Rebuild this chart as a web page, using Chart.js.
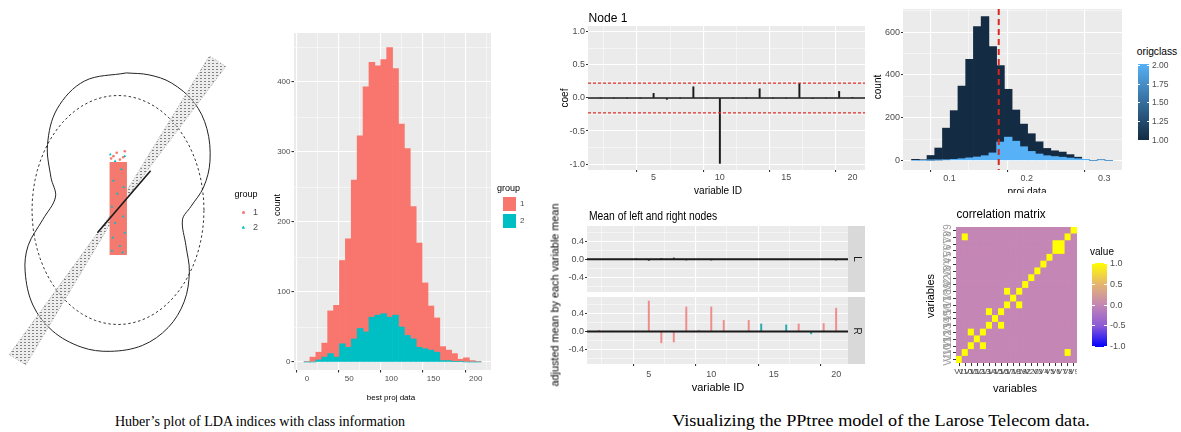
<!DOCTYPE html>
<html lang="en">
<head>
<meta charset="UTF-8">
<title>PPtree figures</title>
<script src="https://cdn.jsdelivr.net/npm/chart.js"></script>
<style>
    body { margin: 0; width: 1181px; height: 432px; position: relative; overflow: hidden; background: #fff;
           font-family: 'Liberation Sans', Arial, sans-serif; }
    .t { position: absolute; white-space: nowrap; color: #000; line-height: 1; }
    .serif { font-family: 'Liberation Serif', 'Times New Roman', serif; }
</style>
</head>
<body>
<script>
    // ---------- data ----------
    // Huber plot, data units (dashed reference circle has radius 1)
    const huberCurveX = [0.097, -0.39, -0.708, -0.82, -0.78, -0.727, -0.876, -1.045, -1.08, -0.99, -0.764, -0.427, -0.09,
        0.285, 0.584, 0.77, 0.83, 0.79, 0.75, 0.846, 0.996, 1.07, 1.034, 0.884, 0.62, 0.36, 0.097];
    const huberCurveY = [1.197, 1.126, 0.883, 0.57, 0.285, 0.114, -0.085, -0.31, -0.54, -0.83, -1.054, -1.197, -1.234,
        -1.182, -1.026, -0.80, -0.54, -0.31, -0.085, 0.028, 0.2, 0.427, 0.71, 0.94, 1.11, 1.18, 1.197];
    const huberRefRadius = 1;
    const bandX = [-1.264, 0.019, 1.062, 1.253, 0.048, -1.073, -1.264];
    const bandY = [-1.262, 0.067, 1.344, 1.254, 0.053, -1.353, -1.262];
    const projLineX = [-0.239, 0.379];
    const projLineY = [-0.199, 0.342];
    const boxX = [-0.098, 0.104, 0.104, -0.098, -0.098];
    const boxY = [0.42, 0.42, -0.393, -0.393, 0.42];
    const group1X = [-0.053, -0.015, 0.079, 0.022, -0.08, 0.06];
    const group1Y = [0.47, 0.5, 0.513, 0.44, 0.45, 0.46];
    const group2X = [-0.034, 0.041, -0.053, 0.067, -0.008, -0.071, 0.06, -0.034, 0.079, -0.06, 0.022, -0.071, 0.053, -0.09, 0.079];
    const group2Y = [0.427, 0.356, 0.256, 0.199, 0.143, 0.028, -0.057, -0.114, -0.199, -0.242, -0.314, -0.356, -0.37, 0.485, 0.47];

    // histogram of best projection
    const histBins = [0, 7, 14, 21, 28, 35, 42, 49, 56, 63, 70, 77, 84, 91, 98, 105, 112, 119, 126, 133,
        140, 147, 154, 161, 168, 175, 182, 189, 196, 203];
    const histGroup1 = [1, 7, 11, 20, 61, 74, 119, 155, 227, 275, 350, 364, 356, 363, 385, 352, 290, 267, 189, 149,
        94, 63, 49, 20, 15, 11, 3, 6, 2, 1];
    const histGroup2 = [0, 0, 3, 7, 12, 7, 26, 21, 33, 48, 43, 64, 67, 69, 64, 67, 50, 38, 33, 21,
        19, 17, 14, 2, 2, 1, 1, 0, 0, 0];
    const histXTicks = [0, 50, 100, 150, 200];
    const histYTicks = [0, 100, 200, 300, 400];

    // Node 1 coefficients
    const varIds = [1, 2, 3, 4, 5, 6, 7, 8, 9, 10, 11, 12, 13, 14, 15, 16, 17, 18, 19, 20];
    const nodeCoef = [0, 0, 0, 0, 0.07, -0.02, 0, 0.17, 0, -0.99, 0, 0, 0.14, 0, 0, 0.22, -0.01, 0, 0.10, 0.01];
    const nodeCut = 0.224;
    const varTicks = [5, 10, 15, 20];
    const coefTicks = [-1, -0.5, 0, 0.5, 1];

    // projected data histogram
    const projBins = [0.056, 0.066, 0.076, 0.086, 0.096, 0.106, 0.116, 0.126, 0.136, 0.146, 0.156, 0.166, 0.176,
        0.186, 0.196, 0.206, 0.216, 0.226, 0.236, 0.246, 0.256, 0.266, 0.276, 0.286, 0.296, 0.306];
    const projClass1 = [5, 3, 22, 56, 148, 228, 340, 461, 611, 651, 498, 358, 224, 146, 106, 83, 57, 34, 27, 24, 16, 7, 0, 0, 0, 0];
    const projClass2 = [0, 0, 1, 2, 3, 5, 8, 12, 16, 22, 35, 86, 109, 90, 64, 42, 30, 22, 18, 15, 11, 8, 5, 0, 3, 0];
    const projCut = 0.1637;
    const projXTicks = [0.1, 0.2, 0.3];
    const projYTicks = [0, 200, 400, 600];
    const classTicks = ['2.00', '1.75', '1.50', '1.25', '1.00'];

    // mean of left and right nodes
    const meanL = [0, 0, 0, 0.01, -0.03, 0.02, 0.03, -0.02, 0, -0.02, 0, 0, 0, 0, 0, 0, 0, 0, 0, -0.02];
    const meanR = [0.03, 0.01, 0, 0.01, 0.68, -0.25, -0.23, 0.55, 0.03, 0.55, 0.25, 0.01, 0.25, 0.17, 0, 0.15, 0.17, -0.05, 0.18, 0.52];
    const meanRClass = [1, 1, 1, 1, 1, 1, 1, 1, 1, 1, 1, 1, 1, 2, 1, 2, 1, 2, 1, 1];
    const meanTicks = [-0.4, 0, 0.4];

    // correlation matrix
    const corrVars = ['V1', 'V10', 'V11', 'V12', 'V13', 'V14', 'V15', 'V16', 'V17', 'V18', 'V19',
        'V2', 'V20', 'V3', 'V4', 'V5', 'V6', 'V7', 'V8', 'V9'];
    const corrPairRow = [2, 4, 5, 7, 8, 10, 1, 18, 16, 17];
    const corrPairCol = [4, 2, 7, 5, 10, 8, 18, 1, 17, 16];
    const corrPairValue = [1, 1, 1, 1, 1, 1, 1, 1, 1, 1];
    const corrBase = 0;
    const corrTicks = ['1.0', '0.5', '0.0', '-0.5', '-1.0'];

    // ---------- helpers ----------
    const FONT = "'Liberation Sans', Arial, sans-serif";
    const TICK = '#4D4D4D';
    Chart.defaults.font.family = FONT;

    const panelBg = {
        id: 'panelBg',
        beforeDraw(chart, args, opts) {
            if (!opts.color) return;
            const a = chart.chartArea;
            chart.ctx.save();
            chart.ctx.fillStyle = opts.color;
            chart.ctx.fillRect(a.left, a.top, a.right - a.left, a.bottom - a.top);
            chart.ctx.restore();
        }
    };
    const refLines = {
        id: 'refLines',
        afterDatasetsDraw(chart, args, opts) {
            const {ctx, chartArea: a, scales} = chart;
            (opts.lines || []).forEach(l => {
                ctx.save();
                ctx.strokeStyle = l.color;
                ctx.lineWidth = l.width;
                ctx.setLineDash(l.dash || []);
                ctx.beginPath();
                if (l.axis === 'y') {
                    const y = scales.y.getPixelForValue(l.value);
                    ctx.moveTo(a.left, y); ctx.lineTo(a.right, y);
                } else {
                    const x = scales.x.getPixelForValue(l.value);
                    ctx.moveTo(x, a.top); ctx.lineTo(x, a.bottom);
                }
                ctx.stroke();
                ctx.restore();
            });
        }
    };
    const rotYLabels = {
        id: 'rotYLabels',
        afterDraw(chart, args, opts) {
            if (!opts.labels) return;
            const {ctx, scales: {y}, chartArea: a} = chart;
            ctx.save();
            ctx.fillStyle = opts.color;
            ctx.font = opts.size + 'px ' + FONT;
            ctx.textAlign = 'center';
            ctx.textBaseline = 'middle';
            opts.labels.forEach((t, i) => {
                ctx.save();
                ctx.translate(a.left + opts.offset, y.getPixelForValue(i + 0.5));
                ctx.rotate(-Math.PI / 2);
                ctx.fillText(t, 0, 0);
                ctx.restore();
            });
            ctx.restore();
        }
    };
    Chart.register(panelBg, refLines, rotYLabels);

    function makeChart(left, top, w, h, config) {
        const c = document.createElement('canvas');
        c.width = w; c.height = h;
        Object.assign(c.style, {position: 'absolute', left: left + 'px', top: top + 'px', width: w + 'px', height: h + 'px'});
        document.body.appendChild(c);
        config.options = Object.assign({responsive: false, animation: false, events: []}, config.options);
        config.options.plugins = Object.assign({legend: {display: false}, tooltip: {enabled: false}}, config.options.plugins);
        return new Chart(c, config);
    }

    // ggplot-like linear axis: white major/minor grid, grey labels, fixed size
    function ggScale(o) {
        const major = o.major, all = major.concat(o.minor || []).sort((a, b) => a - b);
        const isMajor = c => c.tick && major.includes(c.tick.value);
        const show = o.labels !== false;
        return {
            type: 'linear', min: o.min, max: o.max, offset: false, stacked: !!o.stacked,
            afterBuildTicks: s => { s.ticks = all.map(v => ({value: v})); },
            afterFit: s => {
                if (s.isHorizontal()) { s.height = o.size; s.paddingLeft = 0; s.paddingRight = 0; }
                else { s.width = o.size; s.paddingTop = 0; s.paddingBottom = 0; }
            },
            ticks: {display: show, autoSkip: false, maxRotation: 0, minRotation: 0, padding: o.pad ?? 1,
                color: TICK, font: {size: o.font || 8}, callback: v => major.includes(v) ? o.fmt(v) : ''},
            grid: {color: '#FFFFFF', lineWidth: c => isMajor(c) ? 1.1 : 0.5, drawTicks: show,
                tickLength: o.tickLen ?? 2.5, tickColor: c => isMajor(c) ? '#333333' : 'rgba(0,0,0,0)'},
            border: {display: false}
        };
    }

    function txt(s, x, y, size, o = {}) {
        const d = document.createElement('div');
        d.className = 't' + (o.serif ? ' serif' : '');
        d.textContent = s;
        d.style.fontSize = size + 'px';
        d.style.color = o.color || '#000';
        (o.parent || document.body).appendChild(d);
        const sx = o.w ? o.w / d.offsetWidth : 1;
        if (o.anchor === 'left') {
            d.style.left = x + 'px'; d.style.top = (y - d.offsetHeight / 2) + 'px';
            d.style.transformOrigin = 'left center';
            d.style.transform = `scaleX(${sx})`;
        } else {
            d.style.left = x + 'px'; d.style.top = y + 'px';
            d.style.transform = `translate(-50%,-50%) rotate(${o.rot || 0}deg) scaleX(${sx})`;
        }
        return d;
    }
    function rect(x, y, w, h, bg, extra = {}) {
        const d = document.createElement('div');
        Object.assign(d.style, {position: 'absolute', left: x + 'px', top: y + 'px', width: w + 'px', height: h + 'px', background: bg}, extra);
        document.body.appendChild(d);
        return d;
    }
    function clipBox(x, y, w, h) {
        return rect(x, y, w, h, 'transparent', {overflow: 'hidden'});
    }
    const xy = (xs, ys) => xs.map((v, i) => ({x: v, y: ys[i]}));

    // ---------- Huber plot ----------
    // light dotted hatch for the projection band
    const pc = document.createElement('canvas');
    pc.width = 4; pc.height = 3;
    const pctx = pc.getContext('2d');
    pctx.fillStyle = 'rgba(222,222,222,0.55)';
    pctx.fillRect(0, 0, 4, 3);
    pctx.fillStyle = 'rgba(95,95,95,0.75)';
    pctx.fillRect(0, 1, 2, 1);
    const hatch = pctx.createPattern(pc, 'repeat');

    const circleAngles = [];
    for (let a = 0; a <= 360; a += 5) circleAngles.push(a);
    const circlePts = circleAngles.map(a => ({x: huberRefRadius * Math.cos(a * Math.PI / 180), y: huberRefRadius * Math.sin(a * Math.PI / 180)}));

    makeChart(0, 20, 236, 380, {
        type: 'line',
        data: {datasets: [
            {data: xy(group2X, group2Y), showLine: false, pointRadius: 1.6, pointStyle: 'triangle', pointBackgroundColor: '#00BFC4', pointBorderWidth: 0},
            {data: xy(group1X, group1Y), showLine: false, pointRadius: 1.3, pointBackgroundColor: '#F8766D', pointBorderWidth: 0},
            {data: xy(projLineX, projLineY), borderColor: '#1a1a1a', borderWidth: 1.6, pointRadius: 0},
            {data: xy(boxX, boxY), fill: 'shape', backgroundColor: '#F47A70', borderWidth: 0, pointRadius: 0},
            {data: xy(bandX, bandY), fill: 'shape', backgroundColor: hatch, borderColor: '#9a9a9a', borderWidth: 0.7, borderDash: [1.5, 1.5], pointRadius: 0},
            {data: xy(huberCurveX, huberCurveY), borderColor: '#222', borderWidth: 1, tension: 0.35, pointRadius: 0},
            {data: circlePts, borderColor: '#333', borderWidth: 1, borderDash: [2.5, 2.5], pointRadius: 0}
        ]},
        options: {
            layout: {padding: 0},
            scales: {
                x: {type: 'linear', min: -1.326, max: 1.326, display: false},
                y: {type: 'linear', min: -1.624, max: 1.624, display: false}
            }
        }
    });
    txt('group', 246, 194, 9);
    rect(241.8, 210.8, 3, 3, '#F8766D', {borderRadius: '50%'});
    txt('1', 253, 212.5, 9, {anchor: 'left', color: TICK});
    rect(241.5, 225.5, 3.6, 3.2, '#00BFC4', {clipPath: 'polygon(50% 0, 100% 100%, 0 100%)'});
    txt('2', 253, 227.5, 9, {anchor: 'left', color: TICK});

    // ---------- best projection histogram ----------
    makeChart(262, 28, 229, 360, {
        type: 'bar',
        data: {datasets: [
            {data: xy(histBins, histGroup2), backgroundColor: '#00BFC4'},
            {data: xy(histBins, histGroup1), backgroundColor: '#F8766D'}
        ]},
        options: {
            layout: {padding: {top: 5, right: 0, left: 0, bottom: 0}},
            datasets: {bar: {barPercentage: 1, categoryPercentage: 1, borderWidth: 0}},
            scales: {
                x: ggScale({min: -15.4, max: 218.2, major: histXTicks, minor: [25, 75, 125, 175], fmt: v => v, size: 18, font: 8, stacked: true}),
                y: ggScale({min: -11.4, max: 470, major: histYTicks, minor: [50, 150, 250, 350, 450], fmt: v => v, size: 32, font: 8, stacked: true})
            },
            plugins: {panelBg: {color: '#EBEBEB'}}
        }
    });
    txt('count', 277, 205, 9, {rot: -90});
    txt('best proj data', 391, 398, 8);
    txt('group', 497, 188, 9, {anchor: 'left'});
    rect(503, 197, 13, 14, '#F8766D');
    rect(503, 214, 13, 14, '#00BFC4');
    txt('1', 520, 204, 8, {anchor: 'left', color: TICK});
    txt('2', 520, 221, 8, {anchor: 'left', color: TICK});

    // ---------- Node 1 ----------
    makeChart(548, 22, 317, 162, {
        type: 'bar',
        data: {datasets: [
            {data: xy(varIds, nodeCoef), backgroundColor: '#1A1A1A', barThickness: 1.3}
        ]},
        options: {
            layout: {padding: {top: 4, right: 0, left: 0, bottom: 0}},
            scales: {
                x: ggScale({min: 0.05, max: 20.95, major: varTicks, minor: [2.5, 7.5, 12.5, 17.5], fmt: v => v, size: 14, font: 9, pad: 0, tickLen: 2}),
                y: ggScale({min: -1.09, max: 1.09, major: coefTicks, minor: [-0.75, -0.25, 0.25, 0.75], fmt: v => v.toFixed(1), size: 40, font: 9, tickLen: 2})
            },
            plugins: {
                panelBg: {color: '#EBEBEB'},
                refLines: {lines: [
                    {axis: 'y', value: 0, color: '#1A1A1A', width: 1.4},
                    {axis: 'y', value: nodeCut, color: '#E0302C', width: 1.3, dash: [3, 2]},
                    {axis: 'y', value: -nodeCut, color: '#E0302C', width: 1.3, dash: [3, 2]}
                ]}
            }
        }
    });
    txt('Node 1', 608, 17, 13, {w: 39});
    txt('coef', 565, 98, 10, {rot: -90});
    txt('variable ID', 40, 7, 10, {parent: clipBox(678, 184, 80, 11)});

    // ---------- projected data histogram ----------
    makeChart(870, 5, 252, 180, {
        type: 'bar',
        data: {datasets: [
            {data: xy(projBins, projClass2), backgroundColor: '#56B1F7'},
            {data: xy(projBins, projClass1), backgroundColor: '#132B43'}
        ]},
        options: {
            layout: {padding: {top: 4, right: 0, left: 0, bottom: 0}},
            datasets: {bar: {barPercentage: 1, categoryPercentage: 1, borderWidth: 0}},
            scales: {
                x: ggScale({min: 0.040, max: 0.323, major: projXTicks, minor: [0.05, 0.15, 0.25], fmt: v => v.toFixed(1), size: 15, font: 9, pad: 1, tickLen: 2, stacked: true}),
                y: ggScale({min: -45, max: 709, major: projYTicks, minor: [100, 300, 500, 700], fmt: v => v, size: 33, font: 9, tickLen: 2, stacked: true})
            },
            plugins: {
                panelBg: {color: '#EBEBEB'},
                refLines: {lines: [{axis: 'x', value: projCut, color: '#D7261E', width: 2, dash: [6, 4]}]}
            }
        }
    });
    txt('count', 878, 87, 10, {rot: -90});
    txt('proj data', 40, 8, 10, {parent: clipBox(987, 184, 80, 9)});
    txt('origclass', 1157, 52, 10, {w: 40});
    rect(1138, 64, 11, 76, 'linear-gradient(to bottom, #56B1F7, #132B43)');
    classTicks.forEach((t, i) => {
        const y = 65.7 + i * 18.6;
        rect(1138, y - 0.5, 2, 1, '#fff');
        rect(1147, y - 0.5, 2, 1, '#fff');
        txt(t, 1152, y, 8.5, {anchor: 'left', color: TICK});
    });

    // ---------- mean of left and right nodes ----------
    const meanColor = c => c === 2 ? '#2AAAB3' : '#EE8C8C';
    makeChart(547, 222, 301, 70, {
        type: 'bar',
        data: {datasets: [
            {data: xy(varIds, meanL), backgroundColor: '#555555', barThickness: 1.2}
        ]},
        options: {
            layout: {padding: {top: 4, right: 0, left: 0, bottom: 0}},
            scales: {
                x: ggScale({min: 0.05, max: 20.95, major: varTicks, minor: [2.5, 7.5, 12.5, 17.5], fmt: v => v, size: 0, labels: false}),
                y: ggScale({min: -0.73, max: 0.74, major: meanTicks, minor: [-0.6, -0.2, 0.2, 0.6], fmt: v => v.toFixed(1), size: 40, font: 9, tickLen: 2})
            },
            plugins: {
                panelBg: {color: '#EBEBEB'},
                refLines: {lines: [{axis: 'y', value: 0, color: '#1A1A1A', width: 2}]}
            }
        }
    });
    makeChart(547, 293, 301, 95, {
        type: 'bar',
        data: {datasets: [
            {data: xy(varIds, meanR), backgroundColor: meanRClass.map(meanColor), barThickness: 1.3}
        ]},
        options: {
            layout: {padding: {top: 4, right: 0, left: 0, bottom: 0}},
            scales: {
                x: ggScale({min: 0.05, max: 20.95, major: varTicks, minor: [2.5, 7.5, 12.5, 17.5], fmt: v => v, size: 24, font: 9, pad: 3, tickLen: 2}),
                y: ggScale({min: -0.72, max: 0.77, major: meanTicks, minor: [-0.6, -0.2, 0.2, 0.6], fmt: v => v.toFixed(1), size: 40, font: 9, tickLen: 2})
            },
            plugins: {
                panelBg: {color: '#EBEBEB'},
                refLines: {lines: [{axis: 'y', value: 0, color: '#1A1A1A', width: 2}]}
            }
        }
    });
    rect(848, 226, 17, 66, '#D9D9D9');
    rect(848, 297, 17, 67, '#D9D9D9');
    txt('L', 857, 259, 10, {rot: 90, color: '#1A1A1A'});
    txt('R', 857, 331, 10, {rot: 90, color: '#1A1A1A'});
    txt('Mean of left and right nodes', 653, 215, 13, {w: 128});
    txt('adjusted mean by each variable mean', 555, 295, 11, {rot: -90, w: 183});
    txt('variable ID', 718, 387, 11);

    // ---------- correlation matrix ----------
    const corrStops = [[-1, [0, 0, 255]], [-0.5, [140, 90, 214]], [0, [196, 134, 181]], [0.5, [229, 181, 110]], [1, [255, 255, 0]]];
    function corrColor(v) {
        for (let i = 1; i < corrStops.length; i++) {
            const [v0, c0] = corrStops[i - 1], [v1, c1] = corrStops[i];
            if (v <= v1) {
                const f = (v - v0) / (v1 - v0);
                return 'rgb(' + c0.map((c, k) => Math.round(c + f * (c1[k] - c))).join(',') + ')';
            }
        }
        return 'rgb(255,255,0)';
    }
    const corrMatrix = corrVars.map((_, r) => corrVars.map((_, c) => r === c ? 1 : corrBase));
    corrPairRow.forEach((r, i) => { corrMatrix[r][corrPairCol[i]] = corrPairValue[i]; });

    makeChart(905, 222, 172, 165, {
        type: 'bar',
        data: {
            labels: corrVars,
            datasets: corrVars.map((_, r) => ({
                data: corrVars.map((name, c) => ({x: name, y: [r, r + 1]})),
                backgroundColor: corrVars.map((_, c) => corrColor(corrMatrix[r][c])),
                barPercentage: 1, categoryPercentage: 1, borderWidth: 0, grouped: false
            }))
        },
        options: {
            layout: {padding: {top: 5, right: 0, left: 0, bottom: 0}},
            scales: {
                x: {
                    type: 'category', offset: true,
                    afterFit: s => { s.height = 24; s.paddingLeft = 0; s.paddingRight = 0; },
                    ticks: {autoSkip: false, maxRotation: 0, minRotation: 0, padding: 1, color: TICK, font: {size: 8}},
                    grid: {offset: false, drawOnChartArea: false, drawTicks: true, tickLength: 3, tickColor: '#333'},
                    border: {display: false}
                },
                y: {
                    type: 'linear', min: 0, max: 20,
                    afterBuildTicks: s => { s.ticks = corrVars.map((_, i) => ({value: i + 0.5})); },
                    afterFit: s => { s.width = 51; s.paddingTop = 0; s.paddingBottom = 0; },
                    ticks: {display: false},
                    grid: {drawOnChartArea: false, drawTicks: true, tickLength: 3, tickColor: '#333'},
                    border: {display: false}
                }
            },
            plugins: {rotYLabels: {labels: corrVars, color: '#9E9E9E', size: 10, offset: -8}}
        }
    });
    txt('correlation matrix', 1000.5, 214, 12, {w: 89});
    txt('variables', 1015, 388, 11);
    txt('variables', 930, 296, 11, {rot: -90});
    txt('value', 1102, 252, 10);
    rect(1092, 263, 15, 84, 'linear-gradient(to bottom, #FFFF00, #E5B56E, #C486B5, #8C5AD6, #0000FF)');
    corrTicks.forEach((t, i) => {
        const y = 263.3 + i * 20.85;
        rect(1092, y - 0.5, 3, 1, '#fff');
        rect(1104, y - 0.5, 3, 1, '#fff');
        txt(t, 1110, y, 9, {anchor: 'left', color: TICK});
    });

    // ---------- captions ----------
    txt('Huber\u2019s plot of LDA indices with class information', 260, 421, 15, {serif: true, w: 290});
    txt('Visualizing the PPtree model of the Larose Telecom data.', 881, 421, 16, {serif: true, w: 418});
</script>
</body>
</html>
